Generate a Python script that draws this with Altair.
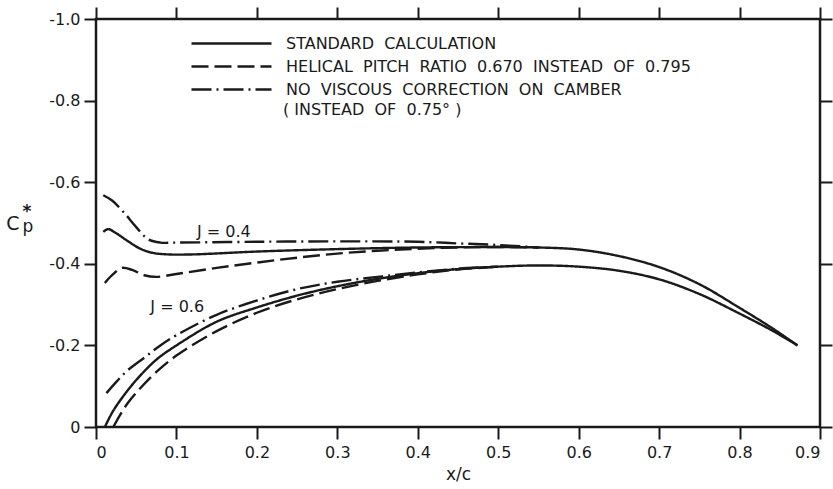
import altair as alt
import pandas as pd

NB = "\u00a0"

# Calculation variants (legend entries) and their line dashes
CASES = [
    "STANDARD CALCULATION",
    "HELICAL PITCH RATIO 0.670 INSTEAD OF 0.795",
    "NO VISCOUS CORRECTION ON CAMBER",
]
DASHES = [[1, 0], [17, 6], [20, 5, 2, 5]]

# J = 0.4 curves
j04_std_x = [0.009, 0.015, 0.025, 0.04, 0.055, 0.07, 0.09, 0.12, 0.2, 0.3, 0.4, 0.5, 0.55,
             0.6, 0.65, 0.7, 0.75, 0.8, 0.84, 0.872]
j04_std_cp = [-0.478, -0.485, -0.475, -0.455, -0.437, -0.427, -0.423, -0.423, -0.43, -0.436,
              -0.44, -0.441, -0.44, -0.435, -0.419, -0.392, -0.35, -0.292, -0.243, -0.2]

j04_pitch_x = [0.011, 0.02, 0.032, 0.045, 0.06, 0.075, 0.1, 0.15, 0.2, 0.25, 0.3, 0.35, 0.4,
               0.45, 0.5, 0.55]
j04_pitch_cp = [-0.353, -0.372, -0.39, -0.385, -0.372, -0.368, -0.375, -0.39, -0.403, -0.415,
                -0.425, -0.432, -0.437, -0.44, -0.441, -0.44]

j04_visc_x = [0.009, 0.02, 0.035, 0.05, 0.065, 0.08, 0.1, 0.2, 0.3, 0.4, 0.45, 0.5, 0.55]
j04_visc_cp = [-0.568, -0.555, -0.525, -0.49, -0.46, -0.452, -0.452, -0.454, -0.455, -0.454,
               -0.45, -0.446, -0.44]

# J = 0.6 curves
j06_std_x = [0.011, 0.02, 0.03, 0.05, 0.075, 0.1, 0.15, 0.2, 0.25, 0.3, 0.35, 0.4, 0.45, 0.5,
             0.55, 0.6, 0.65, 0.7, 0.75, 0.8, 0.84, 0.872]
j06_std_cp = [0.0, -0.035, -0.065, -0.115, -0.165, -0.2, -0.258, -0.293, -0.322, -0.345,
              -0.363, -0.377, -0.387, -0.393, -0.396, -0.393, -0.383, -0.362, -0.326, -0.278,
              -0.237, -0.2]

j06_pitch_x = [0.0215, 0.03, 0.04, 0.055, 0.075, 0.1, 0.15, 0.2, 0.25, 0.3, 0.35, 0.4, 0.45, 0.5]
j06_pitch_cp = [0.0, -0.03, -0.06, -0.095, -0.135, -0.175, -0.235, -0.28, -0.313, -0.338,
                -0.358, -0.374, -0.386, -0.393]

j06_visc_x = [0.013, 0.025, 0.04, 0.06, 0.08, 0.1, 0.15, 0.2, 0.25, 0.3, 0.35, 0.4, 0.45, 0.5]
j06_visc_cp = [-0.083, -0.11, -0.14, -0.17, -0.2, -0.225, -0.275, -0.31, -0.338, -0.356,
               -0.368, -0.379, -0.388, -0.393]

# Curve labels
label_text = ["J = 0.4", "J = 0.6"]
label_x = [0.159, 0.101]
label_cp = [-0.479, -0.295]

FONT = "DejaVu Sans"
INK = "#1a1a1a"

rows = []
for j, case, xs, cps in [
    ("0.4", CASES[0], j04_std_x, j04_std_cp),
    ("0.4", CASES[1], j04_pitch_x, j04_pitch_cp),
    ("0.4", CASES[2], j04_visc_x, j04_visc_cp),
    ("0.6", CASES[0], j06_std_x, j06_std_cp),
    ("0.6", CASES[1], j06_pitch_x, j06_pitch_cp),
    ("0.6", CASES[2], j06_visc_x, j06_visc_cp),
]:
    for i, (xv, cv) in enumerate(zip(xs, cps)):
        rows.append({"J": j, "case": case, "x": xv, "cp": cv, "order": i})
df = pd.DataFrame(rows)
labels = pd.DataFrame({"text": label_text, "x": label_x, "cp": label_cp})

x_scale = alt.Scale(domain=[0, 0.9], nice=False)
y_scale = alt.Scale(domain=[-1.0, 0.0], reverse=True, nice=False)
x_ticks = [0, 0.1, 0.2, 0.3, 0.4, 0.5, 0.6, 0.7, 0.8, 0.9]
y_ticks = [-1.0, -0.8, -0.6, -0.4, -0.2, 0.0]

common_axis = dict(domain=False, grid=False, tickSize=12, tickWidth=2, tickColor=INK,
                   labelFont=FONT, labelFontSize=16, labelColor=INK)

# Legend labels with widened word spacing
legend_label = "replace(datum.label, / /g, ' " + NB + "')"

lines = alt.Chart(df).mark_line(strokeWidth=2.4, color=INK, interpolate="catmull-rom").encode(
    x=alt.X("x:Q", scale=x_scale,
            axis=alt.Axis(values=x_ticks, labelPadding=5, title="x/c", titleFont=FONT,
                          titleFontSize=17, titleFontWeight="normal", titleColor=INK,
                          titlePadding=6,
                          labelExpr="datum.value == 0 ? '0' : format(datum.value, '.1f')",
                          **common_axis)),
    y=alt.Y("cp:Q", scale=y_scale,
            axis=alt.Axis(values=y_ticks, labelPadding=4, title=None,
                          labelExpr="datum.value == 0 ? '0' : '-' + format(abs(datum.value), '.1f')",
                          **common_axis)),
    strokeDash=alt.StrokeDash(
        "case:N",
        scale=alt.Scale(domain=CASES, range=DASHES),
        legend=alt.Legend(orient="none", legendX=154, legendY=13, title=None,
                          symbolType="M-7,0H1", symbolSize=400, symbolStrokeWidth=2.4,
                          symbolStrokeColor=INK, labelFont=FONT, labelFontSize=16,
                          labelColor=INK, labelLimit=700, labelOffset=13, rowPadding=3,
                          padding=0, labelExpr=legend_label),
    ),
    detail="J:N",
    order="order:Q",
)

# Ticks on the top and right edges of the frame
frame_axes = alt.Chart(df).mark_point(opacity=0).encode(
    x=alt.X("x:Q", scale=x_scale,
            axis=alt.Axis(orient="top", values=x_ticks, labels=False, title=None, **common_axis)),
    y=alt.Y("cp:Q", scale=y_scale,
            axis=alt.Axis(orient="right", values=y_ticks, labels=False, title=None, **common_axis)),
)

curve_labels = alt.Chart(labels).mark_text(font=FONT, fontSize=16, color=INK).encode(
    x=alt.X("x:Q", scale=x_scale, axis=None),
    y=alt.Y("cp:Q", scale=y_scale, axis=None),
    text="text:N",
)

# Continuation of the third legend entry
legend_extra = alt.Chart(pd.DataFrame({"t": ["(" + NB + "INSTEAD" + NB + " OF" + NB + " 0.75°" + NB + ")"]})).mark_text(
    font=FONT, fontSize=16, color=INK, align="left", baseline="middle"
).encode(x=alt.value(187), y=alt.value(91), text="t:N")

# y-axis title C_p*
ytitle = pd.DataFrame({"t": ["C", "p", "*"]})
ytitle_c = alt.Chart(ytitle.iloc[[0]]).mark_text(font=FONT, fontSize=19, color=INK,
                                                 baseline="alphabetic").encode(
    x=alt.value(-83), y=alt.value(211), text="t:N")
ytitle_p = alt.Chart(ytitle.iloc[[1]]).mark_text(font=FONT, fontSize=17, color=INK,
                                                 baseline="alphabetic").encode(
    x=alt.value(-68), y=alt.value(213), text="t:N")
ytitle_s = alt.Chart(ytitle.iloc[[2]]).mark_text(font=FONT, fontSize=17, color=INK,
                                                 fontWeight="bold", baseline="middle").encode(
    x=alt.value(-69), y=alt.value(193), text="t:N")

chart = alt.layer(lines, frame_axes, curve_labels, legend_extra, ytitle_c, ytitle_p, ytitle_s).resolve_axis(
    x="independent", y="independent"
).properties(
    width=724, height=408,
    autosize=alt.AutoSizeParams(type="none"),
    padding={"left": 96, "top": 19, "right": 13, "bottom": 62},
    background="white",
).configure_view(stroke=INK, strokeWidth=2.5)

chart.save("out.html", embed_options={"renderer": "svg", "actions": False})
